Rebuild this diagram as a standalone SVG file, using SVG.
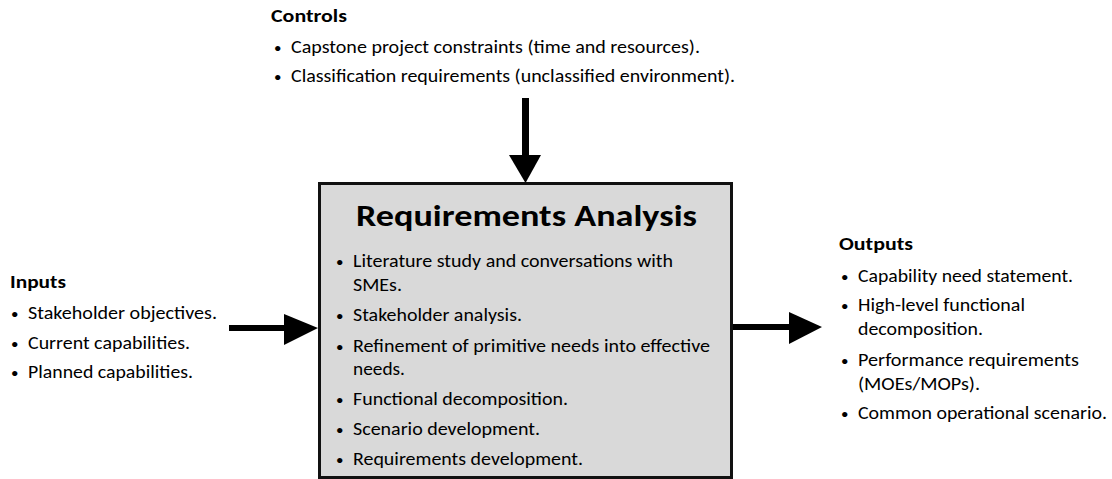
<svg xmlns="http://www.w3.org/2000/svg" width="1112" height="479" viewBox="0 0 1112 479">
<style>
text{font-family:Carlito,"Liberation Sans",Arial,sans-serif;fill:#000}
.t{font-size:17.5px}
.h{font-size:17.5px;font-weight:bold}
.ti{font-size:30.5px;font-weight:bold}
.b{font-size:15px}
</style>
<rect width="1112" height="479" fill="#fff"/>
<g id="connectors" fill="#000">
<rect x="522" y="98" width="7" height="58"/>
<polygon points="509,155 541,155 525.5,183"/>
<rect x="229" y="325" width="57" height="6"/>
<polygon points="284,314 284,345 318,328"/>
<rect x="732" y="324" width="59" height="6"/>
<polygon points="789,312 789,344 822,327"/>
</g>
<g id="controls">
<text class="h" x="271" y="22" textLength="76" lengthAdjust="spacingAndGlyphs">Controls</text>
<text class="b" x="274" y="53">•</text>
<text class="t" x="291" y="53" textLength="409" lengthAdjust="spacingAndGlyphs">Capstone project constraints (time and resources).</text>
<text class="b" x="274" y="82">•</text>
<text class="t" x="291" y="82" textLength="444" lengthAdjust="spacingAndGlyphs">Classification requirements (unclassified environment).</text>
</g>
<g id="process">
<rect x="319.5" y="183.5" width="412" height="294" fill="#d9d9d9" stroke="#111" stroke-width="3"/>
<text class="ti" x="356" y="226" textLength="341" lengthAdjust="spacingAndGlyphs">Requirements Analysis</text>
<text class="b" x="336" y="267">•</text>
<text class="t" x="353" y="267" textLength="320" lengthAdjust="spacingAndGlyphs">Literature study and conversations with</text>
<text class="t" x="353" y="291" textLength="49" lengthAdjust="spacingAndGlyphs">SMEs.</text>
<text class="b" x="336" y="321">•</text>
<text class="t" x="353" y="321" textLength="169" lengthAdjust="spacingAndGlyphs">Stakeholder analysis.</text>
<text class="b" x="336" y="352">•</text>
<text class="t" x="353" y="352" textLength="357" lengthAdjust="spacingAndGlyphs">Refinement of primitive needs into effective</text>
<text class="t" x="353" y="375" textLength="52" lengthAdjust="spacingAndGlyphs">needs.</text>
<text class="b" x="336" y="405">•</text>
<text class="t" x="353" y="405" textLength="215" lengthAdjust="spacingAndGlyphs">Functional decomposition.</text>
<text class="b" x="336" y="435">•</text>
<text class="t" x="353" y="435" textLength="187" lengthAdjust="spacingAndGlyphs">Scenario development.</text>
<text class="b" x="336" y="465">•</text>
<text class="t" x="353" y="465" textLength="230" lengthAdjust="spacingAndGlyphs">Requirements development.</text>
</g>
<g id="inputs">
<text class="h" x="10" y="288" textLength="56" lengthAdjust="spacingAndGlyphs">Inputs</text>
<text class="b" x="11" y="319">•</text>
<text class="t" x="28" y="319" textLength="189" lengthAdjust="spacingAndGlyphs">Stakeholder objectives.</text>
<text class="b" x="11" y="349">•</text>
<text class="t" x="28" y="349" textLength="162" lengthAdjust="spacingAndGlyphs">Current capabilities.</text>
<text class="b" x="11" y="378">•</text>
<text class="t" x="28" y="378" textLength="165" lengthAdjust="spacingAndGlyphs">Planned capabilities.</text>
</g>
<g id="outputs">
<text class="h" x="839" y="250" textLength="74" lengthAdjust="spacingAndGlyphs">Outputs</text>
<text class="b" x="841" y="282">•</text>
<text class="t" x="858" y="282" textLength="215" lengthAdjust="spacingAndGlyphs">Capability need statement.</text>
<text class="b" x="841" y="311">•</text>
<text class="t" x="858" y="311" textLength="167" lengthAdjust="spacingAndGlyphs">High-level functional</text>
<text class="t" x="858" y="335" textLength="125" lengthAdjust="spacingAndGlyphs">decomposition.</text>
<text class="b" x="841" y="366">•</text>
<text class="t" x="858" y="366" textLength="221" lengthAdjust="spacingAndGlyphs">Performance requirements</text>
<text class="t" x="858" y="390" textLength="122" lengthAdjust="spacingAndGlyphs">(MOEs/MOPs).</text>
<text class="b" x="841" y="419">•</text>
<text class="t" x="858" y="419" textLength="249" lengthAdjust="spacingAndGlyphs">Common operational scenario.</text>
</g>
</svg>
